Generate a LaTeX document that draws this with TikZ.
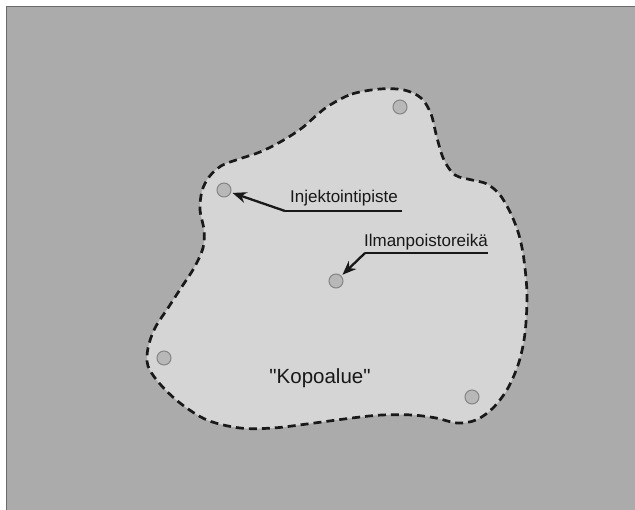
\documentclass[tikz,border=0pt]{standalone}
\usepackage{fontspec}
\setmainfont{Liberation Sans}[Ligatures=TeXOff]
\usetikzlibrary{arrows.meta}
\definecolor{outergray}{HTML}{ABABAB}
\definecolor{innergray}{HTML}{D5D5D5}
\definecolor{framegray}{HTML}{6A6A6A}
\definecolor{dotfill}{HTML}{B8B8B8}
\definecolor{dotedge}{HTML}{858585}
\definecolor{inkgray}{HTML}{181818}
\tikzset{
  holedot/.style={circle, fill=dotfill, draw=dotedge, line width=1pt, minimum size=14pt, inner sep=0pt},
  lbl/.style={font=\fontsize{17}{19}\selectfont, text=inkgray, inner sep=0pt, anchor=base},
  biglbl/.style={font=\fontsize{20.5}{23}\selectfont, text=inkgray, inner sep=0pt, anchor=base},
  pointer/.style={draw=inkgray, line width=2.3pt, -{Stealth[length=14pt,width=11pt]}, shorten >=1.5pt},
  uline/.style={draw=inkgray, line width=2.3pt},
  boundary/.style={draw=black!90, line width=2.7pt, dash pattern=on 8pt off 5pt, fill=innergray}
}
\begin{document}
\begin{tikzpicture}[x=1pt,y=-1pt]
\useasboundingbox (0,0) rectangle (635,510);
\fill[white] (0,0) rectangle (635,510);
\fill[outergray] (6,6) rectangle (635,510);
\draw[framegray, line width=1.5pt] (6.5,510) -- (6.5,6.5) -- (635,6.5);
% area outline
\path[boundary] plot[smooth cycle, tension=0.55] coordinates {
 (330,105) (352,94) (380,89) (404,90) (421,98) (431,114) (437,138) (444,160)
 (455,175) (472,180) (487,184) (500,195) (511,214) (519,235) (524,260)
 (527,295) (525,333) (519,362) (508,388) (493,408) (476,420) (457,423)
 (436,418) (412,415) (382,415) (352,418) (307,424) (273,428) (240,428)
 (207,420) (180,403) (160,384) (148,366) (148,348) (155,328) (168,308)
 (181,288) (194,268) (203,248) (204,230) (200,210) (202,191) (209,177)
 (221,166) (236,160) (260,152) (282,141) (302,128) (318,114)
};
% holes
\node[holedot] (dA) at (224,190) {};
\node[holedot] (dB) at (400,107) {};
\node[holedot] (dC) at (336,281) {};
\node[holedot] (dD) at (164,358) {};
\node[holedot] (dE) at (472,397) {};
% labels
\node[lbl] (tA) at (344,203) {Injektointipiste};
\coordinate (uAs) at (285,211);
\coordinate (uAe) at (402,211);
\draw[uline] (uAe) -- (uAs);
\draw[pointer] (uAs) -- (dA);
\node[lbl] (tC) at (426,247) {Ilmanpoistoreikä};
\coordinate (uCs) at (365,253);
\coordinate (uCe) at (488,253);
\draw[uline] (uCe) -- (uCs);
\draw[pointer] (uCs) -- (dC);
\node[biglbl] (tK) at (320,384) {"Kopoalue"};
\end{tikzpicture}
\end{document}
